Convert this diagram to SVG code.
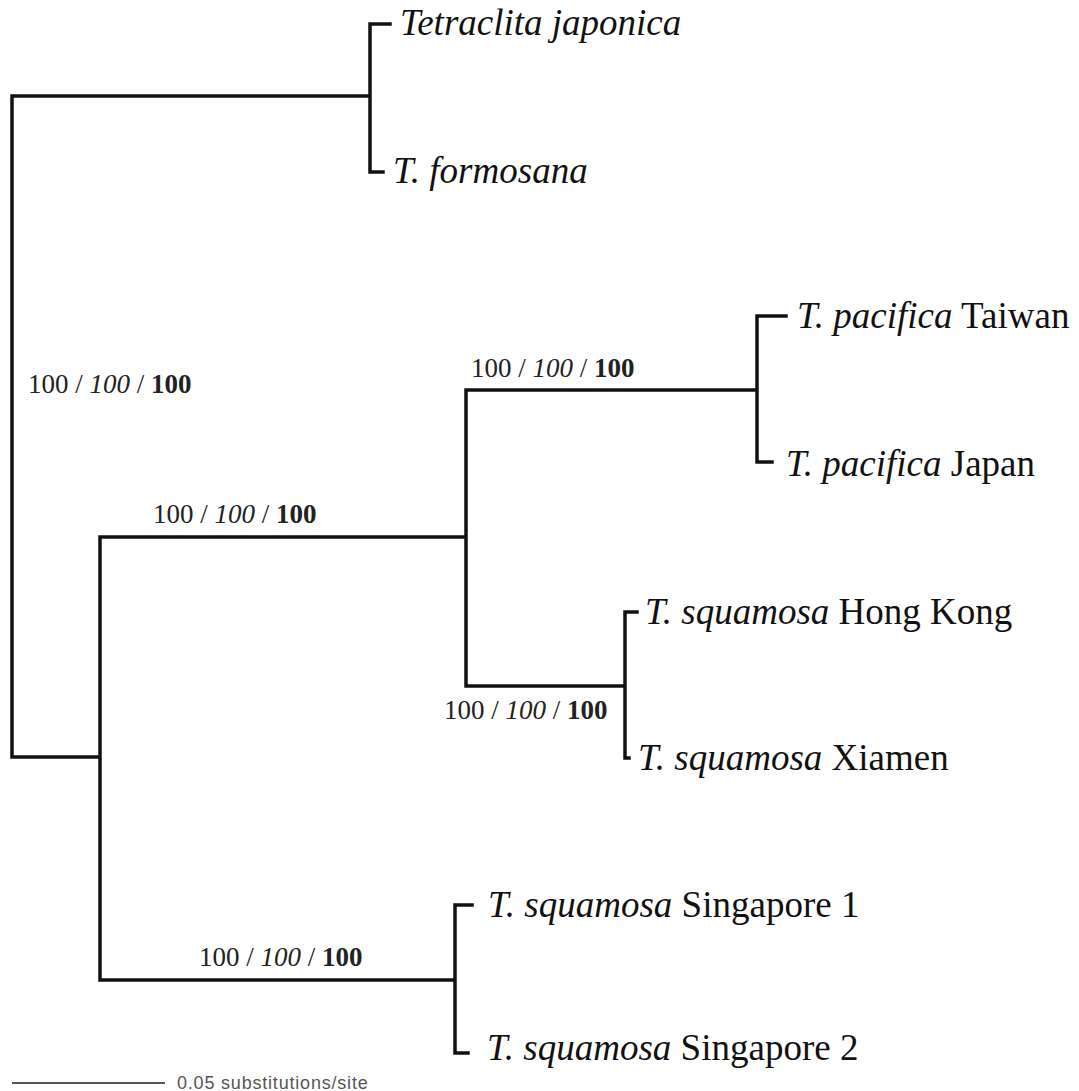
<svg xmlns="http://www.w3.org/2000/svg" width="1079" height="1091" viewBox="0 0 1079 1091">
<style>
.br{fill:none;stroke:#111;stroke-width:3.5;stroke-linecap:square}
.tip{font-family:"Liberation Serif","Times New Roman",serif;font-size:37px;fill:#111}
.i{font-style:italic}
.sup{font-family:"Liberation Serif","Times New Roman",serif;font-size:27px;fill:#222}
.b{font-weight:bold}
.scale{font-family:"Liberation Sans",Arial,sans-serif;font-size:18px;fill:#555;letter-spacing:0.8px}
</style>
<rect width="1079" height="1091" fill="#fff"/>
<g id="connectors">
<path class="br" d="M12,96 V757 M12,96 H370 M370,24 V172 M370,24 H390 M370,172 H383
M12,757 H100 M100,537 V980 M100,537 H466 M466,390 V686 M466,390 H757
M757,316 V462 M757,316 H786 M757,462 H772
M466,686 H625 M625,612 V758 M625,612 H637 M625,758 H629
M100,980 H455 M455,905 V1053 M455,905 H472 M455,1053 H468"/>
</g>
<g id="tip-japonica"><text class="tip i" x="400" y="35">Tetraclita japonica</text></g>
<g id="tip-formosana"><text class="tip" x="393" y="183"><tspan class="i">T. formosana</tspan></text></g>
<g id="tip-pacifica-taiwan"><text class="tip" x="797" y="328"><tspan class="i">T. pacifica</tspan> Taiwan</text></g>
<g id="tip-pacifica-japan"><text class="tip" x="786" y="476"><tspan class="i">T. pacifica</tspan> Japan</text></g>
<g id="tip-squamosa-hk"><text class="tip" x="645" y="624"><tspan class="i">T. squamosa</tspan> Hong Kong</text></g>
<g id="tip-squamosa-xiamen"><text class="tip" x="638" y="770"><tspan class="i">T. squamosa</tspan> Xiamen</text></g>
<g id="tip-squamosa-sg1"><text class="tip" x="488" y="917"><tspan class="i">T. squamosa</tspan> Singapore 1</text></g>
<g id="tip-squamosa-sg2"><text class="tip" x="487" y="1060"><tspan class="i">T. squamosa</tspan> Singapore 2</text></g>
<g id="support-root"><text class="sup" x="28" y="393">100 / <tspan class="i">100</tspan> / <tspan class="b">100</tspan></text></g>
<g id="support-c"><text class="sup" x="153" y="523">100 / <tspan class="i">100</tspan> / <tspan class="b">100</tspan></text></g>
<g id="support-d"><text class="sup" x="471" y="377">100 / <tspan class="i">100</tspan> / <tspan class="b">100</tspan></text></g>
<g id="support-e"><text class="sup" x="444" y="719">100 / <tspan class="i">100</tspan> / <tspan class="b">100</tspan></text></g>
<g id="support-f"><text class="sup" x="199" y="966">100 / <tspan class="i">100</tspan> / <tspan class="b">100</tspan></text></g>
<g id="scale-bar">
<line x1="12" y1="1083" x2="165" y2="1083" stroke="#555" stroke-width="2"/>
<text class="scale" x="177" y="1089">0.05 substitutions/site</text>
</g>
</svg>
